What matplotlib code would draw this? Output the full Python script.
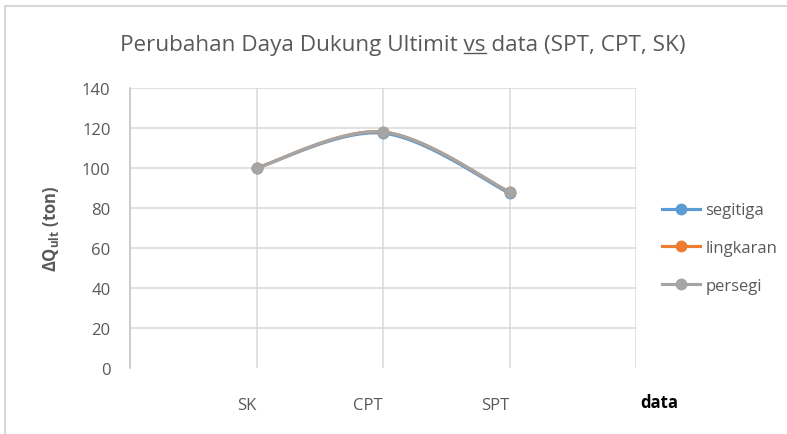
import numpy as np
import matplotlib
matplotlib.use("Agg")
import matplotlib.pyplot as plt
from matplotlib.lines import Line2D

categories = ["SK", "CPT", "SPT"]
segitiga = [100, 117.4, 87.4]
lingkaran = [100, 118, 88]
persegi = [100, 118, 88]
series_names = ["segitiga", "lingkaran", "persegi"]
colors = ["#5B9BD5", "#ED7D31", "#A5A5A5"]
yticks = [0, 20, 40, 60, 80, 100, 120, 140]

plt.rcParams['font.family'] = ['Open Sans', 'DejaVu Sans']
plt.rcParams['mathtext.fontset'] = 'custom'
plt.rcParams['mathtext.bf'] = 'Open Sans:bold'
plt.rcParams['mathtext.rm'] = 'Open Sans'


def smooth(xs, ys, n=40):
    # Catmull-Rom style smoothing (Excel "smoothed line")
    xs = np.asarray(xs, float); ys = np.asarray(ys, float)
    P = np.column_stack([xs, ys])
    P = np.vstack([P[0], P, P[-1]])
    out = []
    for i in range(1, len(P) - 2):
        p0, p1, p2, p3 = P[i - 1], P[i], P[i + 1], P[i + 2]
        c1 = p1 + (p2 - p0) / 6.0
        c2 = p2 - (p3 - p1) / 6.0
        t = np.linspace(0, 1, n)[:, None]
        seg = ((1 - t) ** 3) * p1 + 3 * ((1 - t) ** 2) * t * c1 + 3 * (1 - t) * t ** 2 * c2 + t ** 3 * p2
        out.append(seg if i == 1 else seg[1:])
    seg = np.vstack(out)
    return seg[:, 0], seg[:, 1]


W, H = 787, 435
fig = plt.figure(figsize=(W / 100, H / 100), dpi=100)
fig.patches.append(plt.Rectangle((5 / W, -0.1), 1.2, (H - 7) / H + 0.1, transform=fig.transFigure,
                                 fill=False, edgecolor="#D9D9D9", linewidth=1.5))
ax = fig.add_axes([130 / W, 1 - 369 / H, (636 - 130) / W, (369 - 89) / H])

xpos = np.arange(1, len(categories) + 1)
for name, vals, c in zip(series_names, [segitiga, lingkaran, persegi], colors):
    sx, sy = smooth(xpos, vals)
    ax.plot(sx, sy, color=c, linewidth=2.25, solid_capstyle='round', zorder=3)
    ax.plot(xpos, vals, linestyle='none', marker='o', markersize=7.5, color=c, zorder=4)

ax.set_xlim(0, 4)
ax.set_ylim(0, 140)
ax.set_yticks(yticks)
ax.set_xticks(xpos)
ax.set_xticklabels(categories, ha='right')
for v in [1, 2, 3, 4]:
    ax.axvline(v, color="#D9D9D9", linewidth=1.1, zorder=1)
for v in yticks[1:]:
    ax.axhline(v, color="#D9D9D9", linewidth=1.1, zorder=1)

for s in ["top", "right", "bottom"]:
    ax.spines[s].set_visible(False)
ax.spines["left"].set_color("#BFBFBF")
ax.spines["left"].set_linewidth(1.1)
ax.tick_params(axis='both', length=0, labelsize=12, labelcolor="#595959")
ax.tick_params(axis='x', pad=21)
ax.tick_params(axis='y', pad=14)

ax.set_ylabel(r"Δ$\mathbf{Q_{ult}}$ (ton)", fontsize=12, fontweight='bold', color="#595959", labelpad=15)

title_full = "Perubahan Daya Dukung Ultimit vs data (SPT, CPT, SK)"
title_pre = "Perubahan Daya Dukung Ultimit "
tx, ty = 403 / W, 1 - 46 / H
t = fig.text(tx, ty, title_full, ha='center', va='center', fontsize=16.2, color="#595959")

fig.text(640 / W, 1 - 403 / H, "data", ha='left', va='center', fontsize=12, fontweight='bold', color="black")

handles = [Line2D([0], [0], color=c, linewidth=2.25, marker='o', markersize=7.5) for c in colors]
fig.legend(handles, series_names, loc='center left', bbox_to_anchor=(647 / W, 1 - 249 / H),
           frameon=False, fontsize=12, labelcolor="#595959", handlelength=2.3, handletextpad=0.3,
           labelspacing=1.3)

# underline under "vs" in the title
fig.canvas.draw()
r = fig.canvas.get_renderer()
bb_full = t.get_window_extent(r)
tmp1 = fig.text(0, 0, title_pre, fontsize=16.2)
tmp2 = fig.text(0, 0, title_pre + "vs", fontsize=16.2)
w1 = tmp1.get_window_extent(r).width
w2 = tmp2.get_window_extent(r).width
tmp1.remove(); tmp2.remove()
x0 = (bb_full.x0 + w1) / W
x1 = (bb_full.x0 + w2) / W
yl = (bb_full.y0 + 3) / H
fig.add_artist(Line2D([x0, x1], [yl, yl], transform=fig.transFigure, color="#595959", linewidth=1.0))

fig.savefig("out.png", dpi=100)
